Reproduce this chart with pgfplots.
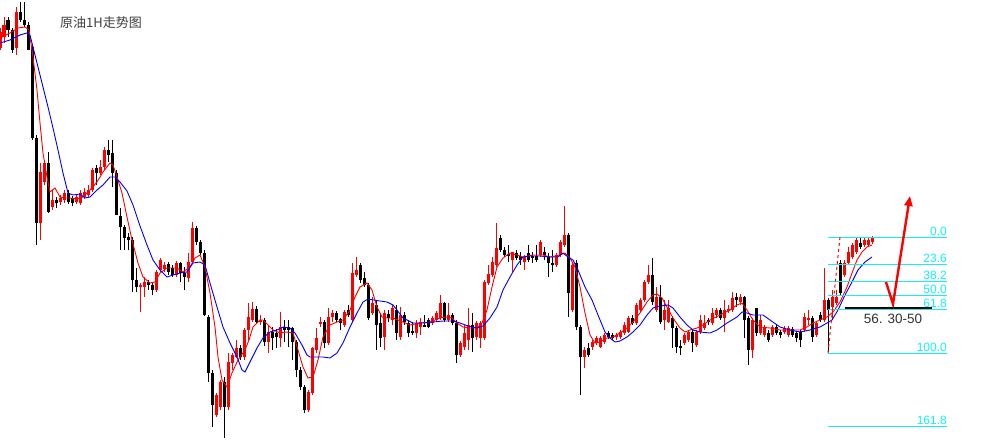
\documentclass[border=0pt]{standalone}
\usepackage{pgfplots}
\pgfplotsset{compat=1.18}
\usepackage{pgfplotstable}
\usepackage{fontspec}
\setmainfont{Liberation Sans}
\newfontfamily\cjk{Noto Sans CJK SC}
\usetikzlibrary{arrows.meta}

\definecolor{cred}{RGB}{255,0,0}
\definecolor{cblue}{RGB}{0,0,255}
\definecolor{fibc}{RGB}{20,240,240}

% hourly candles (x, open, high, low, close in chart pixels, y downwards)
\pgfplotstableread{
x o h l c
0 48 28 50 32
4 37 17 43 25
8 20 17 37 30
12 30 28 53 50
16 48 7 55 12
20 12 2 22 20
24 20 2 27 25
28 25 22 50 50
32 47 45 140 138
36 138 135 245 223
40 223 163 240 172
44 182 160 185 163
48 163 152 213 212
52 207 190 210 200
56 200 197 208 203
60 202 195 205 198
64 200 190 203 193
68 193 190 204 202
72 198 196 206 203
76 202 194 204 197
80 203 190 205 193
84 197 188 199 192
88 195 185 197 190
92 190 168 192 170
96 168 165 185 173
100 173 160 175 167
104 167 147 170 150
108 150 140 162 155
112 153 140 187 173
116 173 170 215 215
120 216 208 250 227
124 227 225 250 238
128 237 233 250 240
132 240 237 292 280
136 280 268 292 287
140 287 283 312 285
144 287 277 297 282
148 282 280 290 285
152 285 283 295 290
156 290 270 292 272
160 270 258 272 260
164 269 262 272 265
168 264 262 275 272
172 268 265 277 275
176 275 261 277 263
180 263 262 282 273
184 273 267 290 277
188 278 253 282 262
192 262 222 263 228
196 228 226 245 242
200 242 240 255 253
204 253 250 316 315
208 317 315 382 373
212 373 370 427 405
216 415 393 417 395
220 407 380 410 382
224 382 377 438 407
228 407 353 410 362
232 363 353 370 355
236 357 340 358 348
240 348 345 360 357
244 357 328 360 330
248 330 303 340 317
252 320 302 322 309
256 309 306 324 322
260 322 315 325 320
264 320 318 346 342
268 342 325 353 332
272 332 327 350 338
276 333 329 348 337
280 338 312 347 327
284 327 320 342 330
288 327 320 347 330
292 328 327 360 342
296 342 340 377 370
300 370 367 390 387
304 387 385 413 410
308 410 390 412 392
312 393 347 395 348
316 350 328 353 338
320 323 317 327 322
324 322 320 348 343
328 343 308 345 317
332 317 310 322 313
336 313 311 322 320
340 319 318 330 323
344 325 310 327 312
348 310 305 317 315
352 320 263 322 273
356 275 257 277 270
360 265 263 283 280
364 278 272 287 285
368 285 283 320 318
372 313 297 315 303
376 305 300 350 325
380 323 313 347 338
384 337 310 350 313
388 314 310 322 318
392 320 305 325 308
396 310 305 340 333
400 337 307 340 315
404 315 312 325 322
408 323 320 337 333
412 331 322 335 332
416 333 320 338 323
420 327 318 335 322
424 325 315 327 326
428 320 318 328 327
432 323 316 325 318
436 320 311 322 313
440 318 295 320 303
444 303 302 322 320
448 320 303 322 315
452 315 313 325 323
456 323 320 363 355
460 355 341 357 343
464 347 325 350 333
468 340 308 350 325
472 325 313 352 338
476 337 321 340 323
480 338 321 348 323
484 338 280 340 282
488 283 265 285 274
492 275 257 277 262
496 265 223 267 248
500 238 235 252 250
504 250 247 257 255
508 254 245 262 255
512 260 252 272 252
516 253 250 260 258
520 256 252 265 260
524 262 255 270 257
528 253 245 262 260
532 256 252 263 258
536 256 245 262 260
540 255 240 257 242
544 252 247 260 255
548 257 253 277 263
552 263 250 272 265
556 265 253 267 255
560 255 240 257 242
564 245 206 247 235
568 235 233 317 293
572 310 262 312 265
576 263 260 330 327
580 327 325 395 357
584 357 347 368 350
588 348 343 357 355
592 347 340 350 342
596 343 336 345 338
600 347 336 348 338
604 342 333 344 335
608 333 331 339 337
612 335 333 340 338
616 337 333 340 335
620 337 330 339 332
624 333 322 335 325
628 332 316 333 318
632 318 315 325 323
636 323 303 325 305
640 310 298 312 300
644 300 280 302 282
648 282 265 284 275
652 275 258 305 302
656 310 287 312 297
660 297 285 324 322
664 320 300 330 310
668 322 300 323 308
672 318 316 348 328
676 328 326 353 347
680 346 340 355 348
684 343 333 345 335
688 340 330 342 332
692 332 330 352 343
696 345 330 347 332
700 332 315 334 320
704 328 315 330 323
708 320 318 325 322
712 323 308 325 313
716 315 308 318 310
720 310 308 320 318
724 318 300 332 310
728 311 305 313 309
732 310 292 312 298
736 297 293 307 300
740 302 294 305 297
744 297 296 338 320
748 318 316 365 350
752 350 318 358 320
756 308 308 336 333
760 333 315 335 320
764 335 325 337 327
768 333 330 342 340
772 335 325 337 327
776 327 325 335 333
780 332 330 338 335
784 332 326 334 328
788 335 326 337 328
792 329 327 337 335
796 333 331 342 338
800 332 330 347 340
804 330 313 332 317
808 320 310 325 318
812 318 316 342 337
816 335 321 337 323
820 315 312 322 320
824 320 268 322 300
828 300 298 352 310
832 307 290 320 297
836 303 290 305 297
840 263 260 295 293
844 275 260 277 263
848 263 247 265 252
852 257 243 259 245
856 252 238 254 240
860 243 238 249 247
864 245 238 247 240
868 245 237 247 240
872 242 236 244 238
}\candles

\begin{document}
\begin{tikzpicture}
\fill[white] (0,0) rectangle (1005bp,445bp);
\begin{axis}[
  scale only axis,
  width=1005bp, height=445bp,
  xmin=0, xmax=1005, ymin=0, ymax=445,
  y dir=reverse,
  hide axis,
  clip=true,
  candle/.style={draw=none, mark=none, forget plot},
]
% rising candles (red): wicks, then bodies
\addplot[candle,
  restrict expr to domain={\thisrow{o}-\thisrow{c}}{0.5:1000},
  error bars/.cd, y dir=both, y explicit, error mark=none,
  error bar style={draw=cred, line width=1bp}]
  table[x=x, y expr={(\thisrow{h}+\thisrow{l})/2}, y error expr={(\thisrow{l}-\thisrow{h})/2}] {\candles};
\addplot[candle,
  restrict expr to domain={\thisrow{o}-\thisrow{c}}{0.5:1000},
  error bars/.cd, y dir=both, y explicit, error mark=none,
  error bar style={draw=cred, line width=3bp}]
  table[x=x, y expr={(\thisrow{o}+\thisrow{c})/2}, y error expr={(\thisrow{o}-\thisrow{c})/2}] {\candles};
% falling candles (black)
\addplot[candle,
  restrict expr to domain={\thisrow{c}-\thisrow{o}}{0.5:1000},
  error bars/.cd, y dir=both, y explicit, error mark=none,
  error bar style={draw=black, line width=1bp}]
  table[x=x, y expr={(\thisrow{h}+\thisrow{l})/2}, y error expr={(\thisrow{l}-\thisrow{h})/2}] {\candles};
\addplot[candle,
  restrict expr to domain={\thisrow{c}-\thisrow{o}}{0.5:1000},
  error bars/.cd, y dir=both, y explicit, error mark=none,
  error bar style={draw=black, line width=3bp}]
  table[x=x, y expr={(\thisrow{o}+\thisrow{c})/2}, y error expr={(\thisrow{c}-\thisrow{o})/2}] {\candles};

% fast moving average (red)
\addplot[cred, line width=0.9bp, mark=none] coordinates {
(0,38)(10,33)(18,28)(25,27)(29,30)(33,57)(37,90)(40,123)(43,153)(47,177)(50,192)(55,188)(60,197)(65,198)(70,198)(77,199)(83,197)(90,190)(97,182)(103,172)(110,163)(113,165)(117,177)(122,193)(127,217)(132,240)(138,263)(143,277)(150,283)(155,282)(160,273)(167,268)(177,268)(183,272)(190,267)(195,258)(200,255)(205,267)(210,293)(215,327)(218,357)(222,380)(227,387)(232,373)(238,360)(245,350)(249,340)(253,327)(260,320)(263,320)(268,325)(273,330)(280,333)(287,332)(293,333)(298,350)(303,367)(308,378)(313,377)(318,360)(323,337)(330,325)(337,322)(343,320)(350,310)(355,297)(360,287)(367,283)(372,290)(377,307)(382,317)(387,318)(393,318)(398,320)(403,322)(410,325)(420,323)(430,322)(440,318)(447,317)(452,318)(457,323)(463,327)(470,328)(477,328)(482,323)(487,310)(492,287)(497,267)(503,258)(510,253)(517,255)(523,257)(533,255)(543,255)(550,257)(560,255)(565,253)(570,258)(575,267)(580,287)(585,313)(590,335)(595,343)(600,342)(607,338)(613,337)(620,333)(627,328)(633,322)(640,313)(647,302)(653,295)(657,294)(662,298)(667,307)(673,318)(680,328)(685,332)(690,330)(697,328)(703,325)(710,320)(720,315)(730,310)(737,305)(742,303)(747,310)(753,320)(760,327)(770,328)(780,330)(790,330)(800,330)(807,327)(813,323)(820,320)(827,317)(833,312)(840,302)(847,287)(852,273)(857,260)(862,252)(867,247)(872,245)
};
% slow moving average (blue)
\addplot[cblue, line width=0.9bp, mark=none] coordinates {
(0,43)(10,40)(20,35)(27,33)(30,35)(33,47)(38,67)(43,87)(48,107)(53,128)(58,150)(63,173)(68,193)(73,195)(80,194)(85,198)(90,197)(97,190)(103,185)(110,177)(115,177)(120,182)(127,191)(133,205)(140,226)(147,245)(153,260)(160,270)(167,277)(173,275)(180,273)(187,272)(193,263)(200,262)(205,265)(210,283)(217,307)(223,327)(230,343)(237,357)(242,370)(245,372)(250,362)(257,348)(263,338)(270,332)(277,330)(283,327)(290,328)(295,333)(302,345)(307,355)(310,357)(323,357)(330,358)(337,353)(343,343)(350,327)(357,313)(363,302)(368,299)(380,301)(387,302)(393,305)(397,310)(403,318)(413,323)(423,323)(433,322)(443,321)(453,321)(460,323)(468,326)(477,328)(483,326)(490,318)(497,307)(503,290)(510,277)(517,265)(523,257)(530,256)(540,256)(550,257)(558,257)(563,253)(568,257)(573,260)(578,270)(585,287)(592,300)(598,315)(605,332)(610,338)(615,342)(620,341)(627,337)(633,332)(640,325)(647,315)(653,308)(660,306)(668,305)(673,308)(680,317)(687,325)(693,330)(700,332)(710,333)(717,330)(727,323)(737,317)(742,312)(747,313)(753,315)(763,315)(770,320)(780,327)(790,330)(800,332)(810,330)(820,327)(827,323)(832,320)(838,310)(845,295)(852,282)(858,270)(865,262)(872,257)
};

% Fibonacci retracement levels
\addplot[fibc, line width=1bp, forget plot] coordinates {(828,237)(947,237)};
\addplot[fibc, line width=1bp, forget plot] coordinates {(828,264)(947,264)};
\addplot[fibc, line width=1bp, forget plot] coordinates {(828,281)(947,281)};
\addplot[fibc, line width=1bp, forget plot] coordinates {(828,295)(947,295)};
\addplot[fibc, line width=1bp, forget plot] coordinates {(828,309)(947,309)};
\addplot[fibc, line width=1bp, forget plot] coordinates {(828,353)(947,353)};
\addplot[fibc, line width=1bp, forget plot] coordinates {(828,426)(947,426)};
\addplot[cred, dashed, line width=1bp, forget plot] coordinates {(828,353)(840,237)};
\addplot[black, line width=2.2bp, forget plot] coordinates {(845,308)(932,308)};

\begin{scope}[every node/.style={anchor=base east, inner sep=0pt, text=fibc, font=\fontsize{12bp}{14bp}\selectfont}]
\node at (axis cs:947,235) {0.0};
\node at (axis cs:947,262) {23.6};
\node at (axis cs:947,279) {38.2};
\node at (axis cs:947,293) {50.0};
\node at (axis cs:947,307) {61.8};
\node at (axis cs:947,351) {100.0};
\node at (axis cs:947,424) {161.8};
\end{scope}
\node[inner sep=0pt, text=black!80, font=\fontsize{13.5bp}{15bp}\selectfont] at (axis cs:893,319) {56. 30-50};

\draw[cred, line width=2.4bp, line join=miter, -{Triangle[length=10bp, width=8bp]}]
  (axis cs:886,282) -- (axis cs:893,304) -- (axis cs:910,196);

\node[anchor=west, inner sep=0pt, text=black!75, font=\cjk\fontsize{13bp}{15bp}\selectfont] at (axis cs:60,23) {原油1H走势图};
\end{axis}
\end{tikzpicture}
\end{document}
